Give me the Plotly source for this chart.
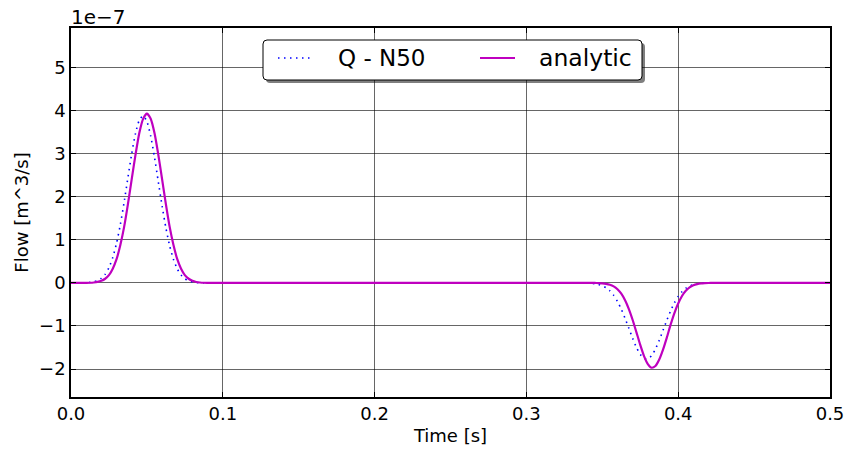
import plotly.graph_objects as go

# ---------------- data (flow in units of 1e-7 m^3/s) ----------------
time_s = [0.0, 0.005, 0.01, 0.0125, 0.015, 0.0175, 0.02, 0.0225, 0.025, 0.0275,
          0.03, 0.0325, 0.035, 0.0375, 0.04, 0.0425, 0.045, 0.0475, 0.05, 0.0525,
          0.055, 0.0575, 0.06, 0.0625, 0.065, 0.0675, 0.07, 0.0725, 0.075, 0.0775,
          0.08, 0.0825, 0.085, 0.0875, 0.09, 0.095, 0.1,
          0.2, 0.3, 0.33, 0.335, 0.34,
          0.3425, 0.345, 0.3475, 0.35, 0.3525, 0.355, 0.3575, 0.36, 0.3625, 0.365,
          0.3675, 0.37, 0.3725, 0.375, 0.3775, 0.38, 0.3825, 0.385, 0.3875, 0.39,
          0.3925, 0.395, 0.3975, 0.4, 0.4025, 0.405, 0.4075, 0.41, 0.4125, 0.415,
          0.4175, 0.42, 0.4225, 0.425,
          0.43, 0.44, 0.5]

q_n50 = [0.0, 0.0007, 0.0048, 0.0115, 0.0257, 0.054, 0.108, 0.202, 0.355, 0.589,
         0.921, 1.354, 1.876, 2.446, 3.003, 3.473, 3.78, 3.88, 3.75, 3.41,
         2.92, 2.35, 1.79, 1.278, 0.860, 0.545, 0.326, 0.183, 0.097, 0.048,
         0.023, 0.010, 0.004, 0.0015, 0.0005, 0.0, 0.0,
         0.0, 0.0, -0.0002, -0.0008, -0.0046,
         -0.0095, -0.019, -0.036, -0.066, -0.113, -0.186, -0.290, -0.431, -0.610, -0.822,
         -1.054, -1.289, -1.50, -1.66, -1.755, -1.763, -1.687, -1.538, -1.334, -1.102,
         -0.867, -0.650, -0.463, -0.315, -0.204, -0.125, -0.074, -0.041, -0.022, -0.011,
         -0.005, -0.002, -0.001, 0.0,
         0.0, 0.0, 0.0]

analytic = [0.0, 0.0002, 0.0015, 0.004, 0.0098, 0.022, 0.048, 0.096, 0.18, 0.33,
            0.55, 0.88, 1.30, 1.83, 2.41, 2.98, 3.48, 3.81, 3.93, 3.81,
            3.48, 2.98, 2.41, 1.83, 1.30, 0.88, 0.55, 0.33, 0.18, 0.096,
            0.048, 0.022, 0.0098, 0.004, 0.0015, 0.0002, 0.0,
            0.0, 0.0, 0.0, 0.0, 0.0,
            -0.0007, -0.0017, -0.004, -0.0095, -0.021, -0.042, -0.081, -0.148, -0.251, -0.402,
            -0.607, -0.861, -1.148, -1.44, -1.70, -1.885, -1.97, -1.93, -1.78, -1.55,
            -1.27, -0.97, -0.70, -0.48, -0.305, -0.184, -0.104, -0.055, -0.028, -0.013,
            -0.006, -0.002, -0.0007, 0.0,
            0.0, 0.0, 0.0]

x_ticks = [0.0, 0.1, 0.2, 0.3, 0.4, 0.5]
y_ticks = [-2, -1, 0, 1, 2, 3, 4, 5]
series_names = ["Q - N50", "analytic"]
scale_label = "1e\u22127"

# ---------------- layout geometry ----------------
W, H = 845, 449
L, R, T, B = 71, 830, 28, 397
FONT = "DejaVu Sans"
BLUE = "#0000ff"
MAG = "#bf00bf"


def px(xp):
    return (xp - L) / (R - L)


def py(yp):
    return (B - yp) / (B - T)


fig = go.Figure()
fig.add_trace(go.Scatter(x=time_s, y=q_n50, mode="lines", name=series_names[0],
                         line=dict(color=BLUE, width=1.6, dash="1.5px,4.5px",
                                   shape="spline", smoothing=0.6),
                         showlegend=False))
fig.add_trace(go.Scatter(x=time_s, y=analytic, mode="lines", name=series_names[1],
                         line=dict(color=MAG, width=2.2, shape="spline", smoothing=0.6),
                         showlegend=False))

axis_common = dict(showline=True, linecolor="black", linewidth=1.5, mirror="ticks",
                   ticks="inside", ticklen=5, tickcolor="black", tickwidth=1,
                   showgrid=True, gridcolor="rgba(0,0,0,0.6)", gridwidth=1,
                   zeroline=False, automargin=False,
                   tickfont=dict(family=FONT, size=18, color="black"))

fig.update_xaxes(range=[0, 0.5], tickvals=x_ticks, tickformat=".1f",
                 title=dict(text="Time [s]", font=dict(family=FONT, size=18, color="black"),
                            standoff=6),
                 **axis_common)
fig.update_yaxes(range=[-2.65, 5.92], tickvals=y_ticks,
                 title=dict(text="Flow [m^3/s]", font=dict(family=FONT, size=18, color="black"),
                            standoff=6),
                 **axis_common)

# legend box (matplotlib-like fancy box with shadow)
bx0, bx1, by0, by1 = 263, 642, 40, 80
r = 4


def rounded(x0, x1, y0, y1):
    rx = r / (R - L)
    ry = r / (B - T)
    X0, X1, Y0, Y1 = px(x0), px(x1), py(y1), py(y0)  # Y0 bottom, Y1 top
    return (f"M {X0+rx},{Y0} L {X1-rx},{Y0} Q {X1},{Y0} {X1},{Y0+ry} "
            f"L {X1},{Y1-ry} Q {X1},{Y1} {X1-rx},{Y1} L {X0+rx},{Y1} "
            f"Q {X0},{Y1} {X0},{Y1-ry} L {X0},{Y0+ry} Q {X0},{Y0} {X0+rx},{Y0} Z")


shapes = [
    dict(type="path", xref="paper", yref="paper", path=rounded(bx0 + 3, bx1 + 3, by0 + 3, by1 + 3),
         fillcolor="rgba(0,0,0,0.5)", line=dict(width=0), layer="above"),
    dict(type="path", xref="paper", yref="paper", path=rounded(bx0, bx1, by0, by1),
         fillcolor="white", line=dict(color="black", width=1), layer="above"),
    dict(type="line", xref="paper", yref="paper", x0=px(278), x1=px(313), y0=py(58), y1=py(58),
         line=dict(color=BLUE, width=1.6, dash="1.5px,4.5px"), layer="above"),
    dict(type="line", xref="paper", yref="paper", x0=px(480), x1=px(515), y0=py(58), y1=py(58),
         line=dict(color=MAG, width=2.2), layer="above"),
]

annotations = [
    dict(x=px(336), y=py(58.5), xref="paper", yref="paper", text=series_names[0],
         showarrow=False, xanchor="left", yanchor="middle",
         font=dict(family=FONT, size=23, color="black")),
    dict(x=px(537), y=py(58.5), xref="paper", yref="paper", text=series_names[1],
         showarrow=False, xanchor="left", yanchor="middle",
         font=dict(family=FONT, size=23.5, color="black")),
    dict(x=px(69), y=py(16.5), xref="paper", yref="paper", text=scale_label,
         showarrow=False, xanchor="left", yanchor="middle",
         font=dict(family=FONT, size=20, color="black")),
]

fig.update_layout(width=W, height=H, margin=dict(l=L, r=W - R, t=T, b=H - B),
                  paper_bgcolor="white", plot_bgcolor="white",
                  shapes=shapes, annotations=annotations, showlegend=False,
                  font=dict(family=FONT, size=18, color="black"))

fig.write_html("out.html")
